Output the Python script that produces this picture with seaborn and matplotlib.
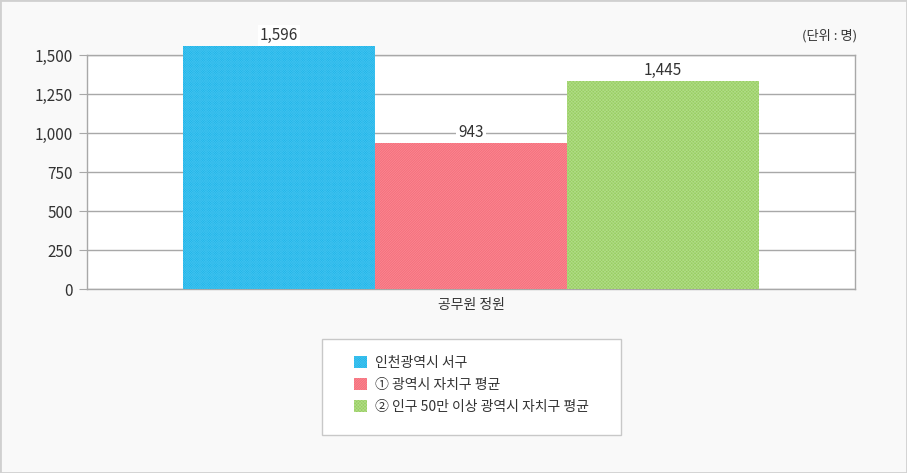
import matplotlib
matplotlib.use("Agg")
import matplotlib.pyplot as plt
import matplotlib.patches as mpatches
import pandas as pd
import seaborn as sb

categories = ["공무원 정원"]
series = ["인천광역시 서구", "① 광역시 자치구 평균", "② 인구 50만 이상 광역시 자치구 평균"]
# bar heights as drawn in the picture, labels as printed above the bars
bar_heights = [1558, 934, 1333]
value_labels = ["1,596", "943", "1,445"]
y_ticks = [0, 250, 500, 750, 1000, 1250, 1500]
y_tick_labels = ["0", "250", "500", "750", "1,000", "1,250", "1,500"]
unit_text = "(단위 : 명)"

culori = ["#1cb4e8", "#f66e7b", "#98cf62"]
culori_hatch = ["#3cc0ee", "#fa8d97", "#b0db86"]
hatches = ["x" * 14, "/" * 14, "x" * 10]

sb.set_style("white")
plt.rcParams["font.family"] = ["Noto Sans CJK KR", "DejaVu Sans"]
plt.rcParams["hatch.linewidth"] = 0.5

df = pd.DataFrame({"cat": categories * len(series), "serie": series, "val": bar_heights})

f = plt.figure(figsize=(9.07, 4.73), dpi=100)
f.patch.set_facecolor("#f9f9f9")
ax = f.add_axes([87 / 907, 1 - 289 / 473, 768 / 907, 234 / 473])
ax.set_facecolor("white")

sb.barplot(data=df, x="cat", y="val", hue="serie", hue_order=series, palette=culori,
           width=0.75, saturation=1, legend=False, ax=ax, zorder=3)

for i, p in enumerate(ax.patches):
    p.set_edgecolor(culori_hatch[i])
    p.set_hatch(hatches[i])
    p.set_linewidth(0)
    p.set_clip_on(False)
    # label sits under the bars so its white box only hides the gridline
    ax.annotate(value_labels[i], (p.get_x() + p.get_width() / 2, p.get_height()),
                xytext=(0, 7.5), textcoords="offset points", ha="center", va="center",
                fontsize=11, color="#333333", zorder=1.5, annotation_clip=False,
                bbox=dict(boxstyle="square,pad=0.15", fc="white", ec="none"))

ax.set_xlim(-0.5, 0.5)
ax.set_ylim(0, 1500)
ax.set_yticks(y_ticks)
ax.set_yticklabels(y_tick_labels)
ax.yaxis.grid(True, color="#a8a8a8", linewidth=1)
ax.set_axisbelow(True)
ax.set_xlabel("")
ax.set_ylabel("")
ax.tick_params(axis="y", left=True, length=6, color="#a8a8a8", labelsize=11,
               labelcolor="#333333", pad=4)
ax.tick_params(axis="x", bottom=False, labelsize=10, labelcolor="#333333", pad=3)
for s in ax.spines.values():
    s.set_color("#a8a8a8")
    s.set_linewidth(1)

f.text(857 / 907, 1 - 36 / 473, unit_text, ha="right", va="center", fontsize=9.5,
       color="#333333")

# legend box
f.patches.append(mpatches.Rectangle((322 / 907, 1 - 435 / 473), 299 / 907, 96 / 473,
                                    transform=f.transFigure, fc="white", ec="#c8c8c8", lw=1))
handles = [mpatches.Patch(facecolor=culori[i], edgecolor=culori_hatch[i], hatch=hatches[i],
                          linewidth=0, label=series[i]) for i in range(len(series))]
f.legend(handles=handles, loc="upper left", bbox_to_anchor=(354 / 907, 1 - 356 / 473),
         frameon=False, fontsize=10, handlelength=0.9, handleheight=0.9,
         handletextpad=0.6, labelspacing=0.57, borderpad=0, borderaxespad=0,
         labelcolor="#333333")

# outer border
f.patches.append(mpatches.Rectangle((0, 0), 1, 1, transform=f.transFigure,
                                    fc="none", ec="#d0d0d0", lw=2))

f.savefig("out.png", dpi=100, facecolor=f.get_facecolor())
